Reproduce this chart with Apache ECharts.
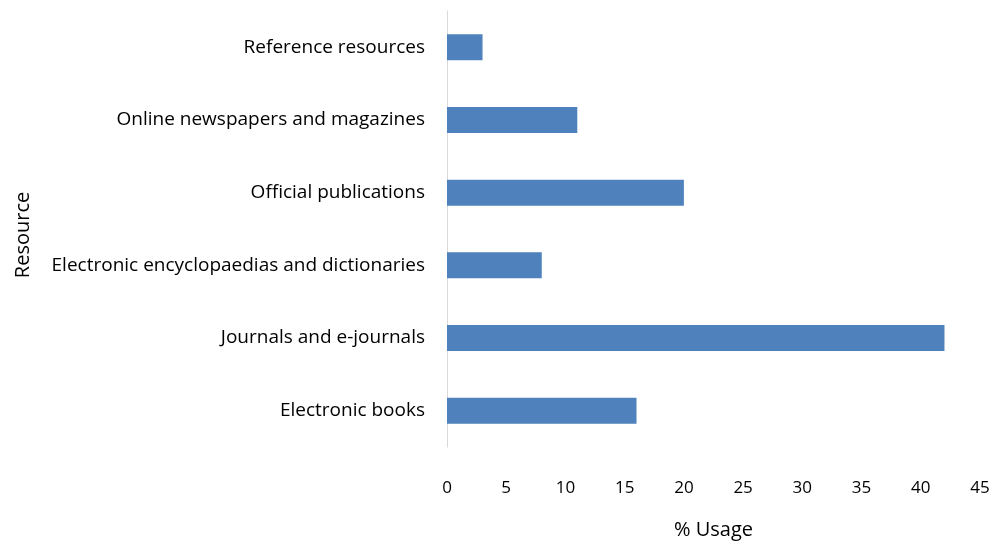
<!DOCTYPE html>
<html>
<head>
<meta charset="utf-8">
<script src="https://cdn.jsdelivr.net/npm/echarts@6/dist/echarts.min.js"></script>
<style>
  html, body { margin: 0; padding: 0; background: #fff; }
  #chart { width: 1006px; height: 545px; }
</style>
</head>
<body>
<div id="chart"></div>
<script>
// Resource categories, listed bottom to top as the category axis draws them
const resources = [
  'Electronic books',
  'Journals and e-journals',
  'Electronic encyclopaedias and dictionaries',
  'Official publications',
  'Online newspapers and magazines',
  'Reference resources'
];
// Percentage usage for each resource
const usage = [16, 42, 8, 20, 11, 3];
// Value axis range
const usageMin = 0;
const usageMax = 45;
const usageStep = 5;

const FONT = 'Open Sans';
const chart = echarts.init(document.getElementById('chart'), null, { renderer: 'canvas' });

chart.setOption({
  animation: false,
  backgroundColor: '#ffffff',
  textStyle: { fontFamily: FONT },
  grid: { left: 447, right: 26, top: 11, bottom: 97, containLabel: false },
  xAxis: {
    type: 'value',
    min: usageMin,
    max: usageMax,
    interval: usageStep,
    name: '% Usage',
    nameLocation: 'middle',
    nameGap: 73,
    nameTextStyle: { fontFamily: FONT, fontSize: 20, color: '#000' },
    axisLine: { show: false },
    axisTick: { show: false },
    splitLine: { show: false },
    axisLabel: { margin: 33, fontFamily: FONT, fontSize: 17, color: '#000' }
  },
  yAxis: {
    type: 'category',
    data: resources,
    name: 'Resource',
    nameLocation: 'middle',
    nameGap: 414,
    nameTextStyle: { fontFamily: FONT, fontSize: 20, color: '#000', padding: [0, 12, 0, 0] },
    axisLine: { show: true, lineStyle: { color: '#d9d9d9', width: 1 } },
    axisTick: { show: false },
    splitLine: { show: false },
    axisLabel: { margin: 22, fontFamily: FONT, fontSize: 19, color: '#000' }
  },
  series: [{
    type: 'bar',
    data: usage,
    barWidth: 26,
    itemStyle: { color: '#4f81bd' }
  }]
});
</script>
</body>
</html>
